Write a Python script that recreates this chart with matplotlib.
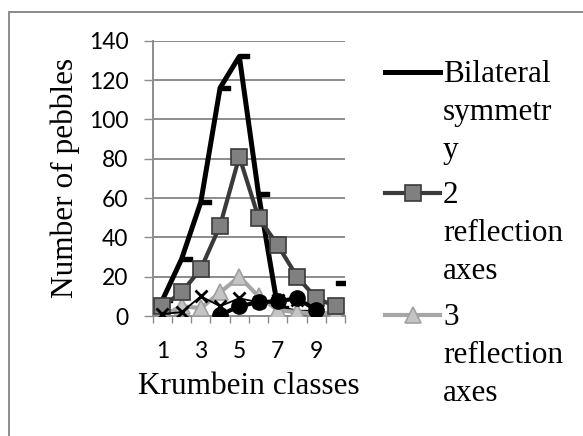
import numpy as np
import matplotlib
matplotlib.use("Agg")
import matplotlib.pyplot as plt
from matplotlib.lines import Line2D
from matplotlib.path import Path
from matplotlib.patches import Rectangle

# -------------------------
# Data
# -------------------------
classes = np.arange(1, 11)
tick_labels = ["1", "3", "5", "7", "9"]

bilateral = [8, 29, 58, 116, 132, 62, 4, 2, np.nan, 17]
refl_2 = [5, 12, 24, 46, 81, 50, 36, 20, 9, 5]
refl_3 = [0, 5, 4, 12, 20, 10, 3, 2, 1, 2]
refl_4 = [1, 2, 10, 5, 9, 7, 8, 8, np.nan, np.nan]
refl_5 = [np.nan, np.nan, np.nan, 0.5, 5, 7, 7.5, 9, 3, np.nan]

legend_lines = [["Bilateral", "symmetr", "y"],
                ["2", "reflection", "axes"],
                ["3", "reflection", "axes"]]

serif = "Liberation Serif"
sans = "Lato"
grid_c = "#8c8c8c"

# dash marker that starts at the point and runs to the right (Excel style)
dash = Path([(0, -0.16), (1, -0.16), (1, 0.16), (0, 0.16), (0, -0.16)],
            [Path.MOVETO, Path.LINETO, Path.LINETO, Path.LINETO, Path.CLOSEPOLY])

# -------------------------
# Plot
# -------------------------
fig = plt.figure(figsize=(5.83, 4.36), dpi=100)
ax = fig.add_axes([0.262, 0.2752, 0.330, 0.6315])

ax.plot(classes, bilateral, color="black", lw=3.6, marker=dash, ms=14,
        mfc="black", mec="black", zorder=3)
ax.plot(classes, refl_2, color="#3a3a3a", lw=3.0, marker="s", ms=12,
        mfc="#808080", mec="#3a3a3a", mew=1.2, zorder=4)
ax.plot(classes, refl_3, color="#a6a6a6", lw=3.0, marker="^", ms=12,
        mfc="#c4c4c4", mec="#a0a0a0", mew=1.2, zorder=3.5)
ax.plot(classes, refl_4, color="black", lw=1.3, marker="x", ms=8,
        mew=2.0, zorder=5)
ax.plot(classes, refl_5, color="black", lw=3.0, marker="o", ms=11,
        zorder=6)

ax.set_xlim(0.5, 10.5)
ax.set_ylim(0, 140)
ax.set_yticks(np.arange(0, 141, 20))
ax.set_xticks([1, 3, 5, 7, 9])
ax.set_xticklabels(tick_labels)
ax.set_xticks(np.arange(0.5, 10.6, 1), minor=True)

ax.grid(axis="y", color=grid_c, lw=1.4, zorder=0)
ax.set_axisbelow(True)
for s in ["top", "right"]:
    ax.spines[s].set_visible(False)
for s in ["left", "bottom"]:
    ax.spines[s].set_color(grid_c)
    ax.spines[s].set_linewidth(1.4)

ax.tick_params(axis="y", direction="out", length=6.5, width=1.0, color=grid_c,
               pad=11, labelsize=16.5)
ax.tick_params(axis="x", which="major", length=0, pad=18, labelsize=16.5)
ax.tick_params(axis="x", which="minor", direction="out", length=5, width=1.0,
               color=grid_c)
for lab in ax.get_xticklabels() + ax.get_yticklabels():
    lab.set_fontfamily(sans)

ax.set_xlabel("Krumbein classes", fontfamily=serif, fontsize=22.5, labelpad=7)
ax.set_ylabel("Number of pebbles", fontfamily=serif, fontsize=22.5, labelpad=6)

# legend drawn by hand, labels wrapped like the original
W, H = 583, 436
handles = [
    dict(color="black", lw=3.6, marker=None),
    dict(color="#3a3a3a", lw=3.0, marker="s", ms=12, mfc="#808080", mec="#3a3a3a", mew=1.2),
    dict(color="#a6a6a6", lw=3.0, marker="^", ms=12, mfc="#c4c4c4", mec="#a0a0a0", mew=1.2),
]
first_base = [82, 203, 325]
for lines, base, hd in zip(legend_lines, first_base, handles):
    yc = base - 10
    fig.add_artist(Line2D([385 / W, 440 / W], [1 - yc / H, 1 - yc / H],
                          transform=fig.transFigure,
                          color=hd["color"], lw=hd["lw"]))
    if hd["marker"]:
        fig.add_artist(Line2D([412.5 / W], [1 - yc / H], transform=fig.transFigure,
                              ls="none", marker=hd["marker"], ms=hd["ms"],
                              mfc=hd["mfc"], mec=hd["mec"], mew=hd["mew"]))
    for i, txt in enumerate(lines):
        fig.text(443 / W, 1 - (base + 38 * i) / H, txt, fontfamily=serif,
                 fontsize=22.5, va="baseline", ha="left")

# outer chart frame (cut off at right and bottom)
fig.add_artist(Rectangle((9 / W, -0.1), 1.2, 1.1 - 12 / H,
                         transform=fig.transFigure, fill=False,
                         edgecolor="#8c8c8c", lw=1.4))

fig.savefig("out.png", dpi=100)
plt.close(fig)
